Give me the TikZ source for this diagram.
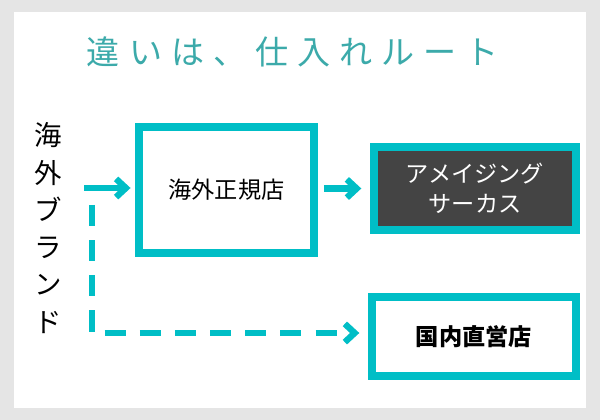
\documentclass[tikz,border=0pt]{standalone}
\usepackage{fontspec}
\setmainfont{Noto Sans CJK JP}
\usetikzlibrary{arrows.meta}
\definecolor{teal}{RGB}{0,190,198}
\definecolor{titleteal}{RGB}{60,170,170}
\definecolor{darkbox}{RGB}{68,68,68}
\begin{document}
\begin{tikzpicture}[x=0.025cm,y=-0.025cm]
 \tikzset{shop/.style={draw=teal, line width=6pt, inner sep=0pt, outer sep=3pt, font=\fontsize{16.5}{21}\selectfont},
          flow/.style={teal, line width=4.5pt, -{Straight Barb[length=7pt,width=13pt]}}}
 \fill[gray!20] (0,0) rectangle (600,420);
 \fill[white] (14,12) rectangle (586,408);
 \node[titleteal, font=\fontsize{23.5}{28}\selectfont, text width=10.3cm, align=flush center] (title) at (293,52) {違\hfill い\hfill は\hfill 、\hfill 仕\hfill 入\hfill れ\hfill ル\hfill ー\hfill ト};
 \node[align=center, font=\fontsize{19.5}{26.5}\selectfont] (brand) at (48,228) {海\\外\\ブ\\ラ\\ン\\ド};
 \node[shop, minimum width=4.375cm, minimum height=3.15cm] (seiki) at (226.5,190) {海外正規店};
 \node[shop, fill=darkbox, text=white, minimum width=5.05cm, minimum height=2.075cm, align=center] (circus) at (475,188.5) {アメイジング\\サーカス};
 \node[shop, minimum width=5.1cm, minimum height=1.975cm, font=\fontsize{16.5}{21}\selectfont\bfseries] (direct) at (474,336.5) {国内直営店};
 \coordinate (s1) at (84,188);
 \coordinate (s2) at (92,205);
 \coordinate (corner) at (92,333);
 \draw[flow, shorten >=3pt] (s1) -- (s1 -| seiki.west);
 \draw[flow, shorten <=4pt, shorten >=6pt] (seiki.east |- circus.west) -- (circus.west);
 \draw[flow, shorten >=6pt, dash pattern=on 15pt off 10pt] (s2) -- (corner) -- (corner -| direct.west);
\end{tikzpicture}
\end{document}
